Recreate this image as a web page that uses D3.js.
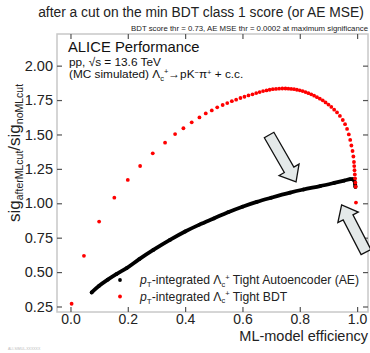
<!DOCTYPE html>
<html><head><meta charset="utf-8">
<script src="https://cdn.jsdelivr.net/npm/d3@7"></script>
<style>
html,body{margin:0;padding:0;background:#fff;}
svg{display:block;font-family:"Liberation Sans",Arial,Helvetica,sans-serif;}
</style></head>
<body>
<svg id="c" width="370" height="353"></svg>
<script>
// ---- data ----
const xTicks = [0.0, 0.2, 0.4, 0.6, 0.8, 1.0];
const xTickLabels = ["0.0", "0.2", "0.4", "0.6", "0.8", "1.0"];
const yTicks = [0.25, 0.50, 0.75, 1.00, 1.25, 1.50, 1.75, 2.00];
const yTickLabels = ["0.25", "0.50", "0.75", "1.00", "1.25", "1.50", "1.75", "2.00"];

// Tight BDT (red markers): efficiency, significance ratio
const bdtEff = [0.004,0.047,0.100,0.153,0.200,0.243,0.287,0.330,0.365,0.394,0.423,0.450,0.472,0.493,0.512,0.531,0.547,0.563,0.578,0.593,0.607,0.621,0.635,0.648,0.660,0.672,0.684,0.695,0.706,0.717,0.728,0.739,0.750,0.760,0.770,0.780,0.790,0.800,0.810,0.820,0.830,0.840,0.850,0.860,0.870,0.880,0.890,0.900,0.910,0.920,0.930,0.940,0.950,0.958,0.965,0.971,0.976,0.980,0.984,0.987,0.989,0.990,0.991,0.992,0.993,0.994,0.995,0.996];
const bdtSig = [0.270,0.618,0.867,1.041,1.170,1.271,1.363,1.440,1.503,1.545,1.588,1.624,1.653,1.675,1.697,1.714,1.728,1.742,1.753,1.765,1.774,1.784,1.792,1.801,1.808,1.815,1.820,1.825,1.829,1.831,1.833,1.834,1.834,1.833,1.831,1.829,1.825,1.821,1.815,1.808,1.800,1.792,1.782,1.771,1.760,1.748,1.733,1.717,1.700,1.680,1.660,1.635,1.605,1.575,1.540,1.500,1.460,1.420,1.380,1.340,1.300,1.270,1.240,1.210,1.180,1.150,1.120,1.005];

// Tight Autoencoder (black, dense markers)
const aeEff = [0.074,0.100,0.130,0.160,0.196,0.240,0.289,0.347,0.400,0.450,0.500,0.550,0.600,0.650,0.700,0.766,0.813,0.871,0.920,0.955,0.976,0.985,0.990,0.993,0.994];
const aeSig = [0.352,0.400,0.445,0.485,0.529,0.594,0.661,0.734,0.795,0.845,0.890,0.935,0.975,1.010,1.040,1.077,1.100,1.125,1.148,1.165,1.175,1.175,1.165,1.140,1.120];

// annotation arrows (data coordinates): [tailX, tailY, tipX, tipY]
const arrows = [[0.693,1.496,0.787,1.155],[1.031,0.646,0.946,0.988]];

// ---- layout ----
const svg = d3.select("#c");
const L = 57, R = 368, T = 34, B = 312;
const x = d3.scaleLinear().domain([-0.047, 1.038]).range([L, R]);
const y = d3.scaleLinear().domain([0.21, 2.23]).range([B, T]);

// titles
svg.append("text").attr("x", 201).attr("y", 17).attr("text-anchor", "middle")
  .attr("font-size", 13.8).attr("fill", "#222").text("after a cut on the min BDT class 1 score (or AE MSE)");
svg.append("text").attr("x", 368).attr("y", 31).attr("text-anchor", "end")
  .attr("font-size", 7.8).attr("fill", "#222").text("BDT score thr = 0.73, AE MSE thr = 0.0002 at maximum significance");

// frame
svg.append("rect").attr("x", L).attr("y", T).attr("width", R - L).attr("height", B - T)
  .attr("fill", "none").attr("stroke", "#c8c8c8").attr("stroke-width", 1.5);

// axes (inward ticks)
const tickCol = "#555";
const gx = svg.append("g").attr("transform", `translate(0,${B})`)
  .call(d3.axisBottom(x).tickValues(xTicks).tickSizeInner(-5).tickSizeOuter(0).tickPadding(2)
    .tickFormat((d, i) => xTickLabels[i]));
const gxt = svg.append("g").attr("transform", `translate(0,${T})`)
  .call(d3.axisTop(x).tickValues(xTicks).tickSizeInner(-5).tickSizeOuter(0).tickFormat(""));
const gy = svg.append("g").attr("transform", `translate(${L},0)`)
  .call(d3.axisLeft(y).tickValues(yTicks).tickSizeInner(-5).tickSizeOuter(0).tickPadding(4)
    .tickFormat((d, i) => yTickLabels[i]));
const gyr = svg.append("g").attr("transform", `translate(${R},0)`)
  .call(d3.axisRight(y).tickValues(yTicks).tickSizeInner(-5).tickSizeOuter(0).tickFormat(""));
[gx, gxt, gy, gyr].forEach(g => {
  g.select(".domain").remove();
  g.selectAll(".tick line").attr("stroke", tickCol).attr("stroke-width", 1.2);
  g.selectAll(".tick text").attr("font-size", 14.5).attr("fill", "#222")
    .attr("font-family", "Liberation Sans, Arial, sans-serif");
});
gx.selectAll(".tick text").attr("font-size", 14).attr("dy", "0.71em");

// x label
svg.append("text").attr("x", 368).attr("y", 341).attr("text-anchor", "end")
  .attr("font-size", 14.5).attr("fill", "#222").text("ML-model efficiency");

// y label
const yl = svg.append("text").attr("transform", "translate(20,222) rotate(-90)")
  .attr("fill", "#222").attr("font-size", 17);
yl.append("tspan").text("sig");
yl.append("tspan").attr("font-size", 10.5).attr("dy", 3).text("afterMLcut");
yl.append("tspan").attr("dy", -3).text("/sig");
yl.append("tspan").attr("font-size", 10.5).attr("dy", 3).text("noMLcut");

// ALICE text
svg.append("text").attr("x", 68).attr("y", 51.5).attr("font-size", 14.8).attr("fill", "#111").text("ALICE Performance");
const t2 = svg.append("text").attr("x", 69).attr("y", 65.5).attr("font-size", 11.8).attr("fill", "#111");
t2.append("tspan").text("pp, \u221As = 13.6 TeV");
const t3 = svg.append("text").attr("x", 69).attr("y", 78.3).attr("font-size", 11.8).attr("fill", "#111");
t3.append("tspan").text("(MC simulated) \u039B");
t3.append("tspan").attr("font-size", 7.5).attr("dy", 2.5).text("c");
t3.append("tspan").attr("font-size", 7.5).attr("dy", -6.5).text("+");
t3.append("tspan").attr("dy", 4).text("\u2192pK");
t3.append("tspan").attr("font-size", 7.5).attr("dy", -3.5).text("\u2212");
t3.append("tspan").attr("dy", 3.5).text("\u03C0");
t3.append("tspan").attr("font-size", 7.5).attr("dy", -3.5).text("+");
t3.append("tspan").attr("dy", 3.5).text(" + c.c.");

// arrows
function arrowPath(a) {
  const x0 = x(a[0]), y0 = y(a[1]), x1 = x(a[2]), y1 = y(a[3]);
  const dx = x1 - x0, dy = y1 - y0, len = Math.hypot(dx, dy);
  const ux = dx / len, uy = dy / len, px = -uy, py = ux;
  const sw = 5.5, hw = 11.5, hl = 14;
  const bx = x1 - ux * hl, by = y1 - uy * hl;
  const pts = [
    [x0 + px * sw, y0 + py * sw], [bx + px * sw, by + py * sw], [bx + px * hw, by + py * hw],
    [x1, y1], [bx - px * hw, by - py * hw], [bx - px * sw, by - py * sw], [x0 - px * sw, y0 - py * sw]
  ];
  return "M" + pts.map(p => p.join(",")).join("L") + "Z";
}
svg.append("g").selectAll("path").data(arrows).join("path")
  .attr("d", arrowPath).attr("fill", "#e4e9e9").attr("stroke", "#111").attr("stroke-width", 1.3)
  .attr("stroke-linejoin", "miter");

// AE series (black)
const aeData = aeEff.map((e, i) => [e, aeSig[i]]);
svg.append("path").datum(aeData)
  .attr("d", d3.line().x(d => x(d[0])).y(d => y(d[1])).curve(d3.curveCatmullRom))
  .attr("fill", "none").attr("stroke", "#000").attr("stroke-width", 3.8).attr("stroke-linecap", "round");
svg.append("g").selectAll("circle").data(aeData).join("circle")
  .attr("cx", d => x(d[0])).attr("cy", d => y(d[1])).attr("r", 1.9).attr("fill", "#000");

// BDT series (red)
const bdtData = bdtEff.map((e, i) => [e, bdtSig[i]]);
svg.append("g").selectAll("circle").data(bdtData).join("circle")
  .attr("cx", d => x(d[0])).attr("cy", d => y(d[1])).attr("r", 1.9).attr("fill", "#ff0000");

// legend
svg.append("circle").attr("cx", 120).attr("cy", 280).attr("r", 1.9).attr("fill", "#000");
svg.append("circle").attr("cx", 120).attr("cy", 296.5).attr("r", 1.9).attr("fill", "#ff0000");
function legendText(yy, label, extraSpace) {
  const t = svg.append("text").attr("x", 140).attr("y", yy).attr("font-size", 12.2).attr("fill", "#222");
  t.append("tspan").attr("font-style", "italic").text("p");
  t.append("tspan").attr("font-size", 8).attr("dy", 3).text("T");
  t.append("tspan").attr("dy", -3).text("-integrated " + extraSpace + "\u039B");
  t.append("tspan").attr("font-size", 7.5).attr("dy", 2.5).text("c");
  t.append("tspan").attr("font-size", 7.5).attr("dy", -7).text("+");
  t.append("tspan").attr("dy", 4.5).text(" " + label);
}
legendText(284, "Tight Autoencoder (AE)", "");
legendText(300.5, "Tight BDT", " ");

// tiny footer
svg.append("text").attr("x", 8).attr("y", 350).attr("font-size", 3.5).attr("fill", "#bbb").text("ALI-SIMUL-XXXXXX");
</script>
</body></html>
